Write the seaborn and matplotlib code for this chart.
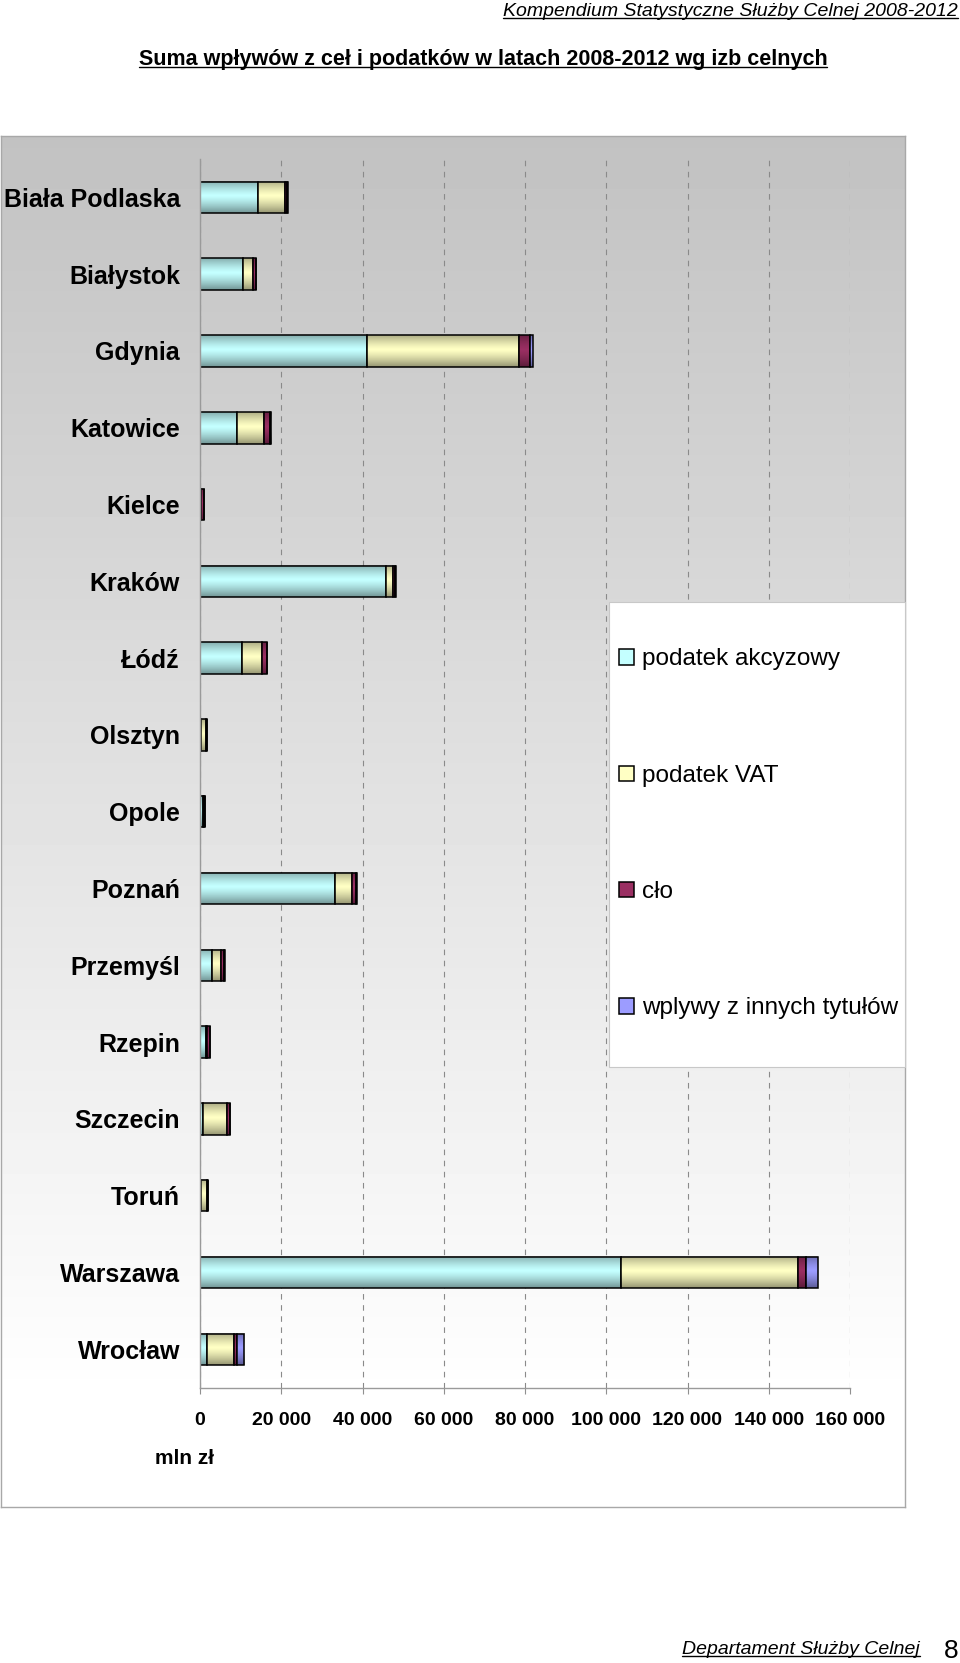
import numpy as np
import pandas as pd
import matplotlib
matplotlib.use("Agg")
import matplotlib.pyplot as plt
import seaborn as sns
from matplotlib.patches import Rectangle
from matplotlib.lines import Line2D
from matplotlib.ticker import FuncFormatter

# ---------------- data (mln zł) ----------------
izby = ["Biała Podlaska", "Białystok", "Gdynia", "Katowice", "Kielce", "Kraków",
        "Łódź", "Olsztyn", "Opole", "Poznań", "Przemyśl", "Rzepin", "Szczecin",
        "Toruń", "Warszawa", "Wrocław"]
akcyzowy = [14200, 10500, 41200, 9100, 100, 45700, 10400, 200, 800, 33300, 3000,
            1400, 700, 200, 103700, 1700]
vat = [6700, 2500, 37200, 6700, 200, 1700, 4900, 1300, 100, 4100, 2200, 400,
       5900, 1500, 43500, 6600]
clo = [600, 700, 2900, 1400, 800, 700, 1100, 100, 300, 1100, 800, 600, 700, 200,
       2000, 700]
inne = [100, 100, 600, 300, 0, 100, 200, 0, 0, 200, 100, 0, 100, 0, 2800, 1900]

series_names = ["podatek akcyzowy", "podatek VAT", "cło", "wplywy z innych tytułów"]
series_values = [akcyzowy, vat, clo, inne]
series_colors = ["#c4ffff", "#ffffc4", "#9a2f62", "#9c9cff"]
xticks = [0, 20000, 40000, 60000, 80000, 100000, 120000, 140000, 160000]

title = "Suma wpływów z ceł i podatków w latach 2008-2012 wg izb celnych"
header = "Kompendium Statystyczne Służby Celnej 2008-2012"
footer = "Departament Służby Celnej"
page_no = "8"
unit = "mln zł"

# ---------------- figure ----------------
sns.set_theme(style="white")
plt.rcParams["font.family"] = ["Liberation Sans", "DejaVu Sans"]
plt.rcParams["text.color"] = "black"

W, H = 960, 1663
fig = plt.figure(figsize=(W / 100, H / 100), dpi=100)
fig.patch.set_facecolor("white")


def fx(px):
    return px / W


def fy(py):
    return 1 - py / H


# chart area background with vertical gradient
bg = fig.add_axes([fx(0.5), fy(1507), fx(905) - fx(0.5), fy(136) - fy(1507)], zorder=0)
grad = np.clip(np.linspace(0.76, 1.02, 256), 0, 1)[:, None]
bg.imshow(grad, cmap="gray", vmin=0, vmax=1, aspect="auto",
          extent=(0, 1, 0, 1), origin="upper", interpolation="bilinear")
bg.set_xticks([])
bg.set_yticks([])
for s in bg.spines.values():
    s.set_color("#a8a8a8")
    s.set_linewidth(1.0)

# main plotting axes
ax = fig.add_axes([fx(200), fy(1387.7), fx(850) - fx(200), fy(159) - fy(1387.7)], zorder=2)
ax.patch.set_alpha(0)

df = pd.DataFrame({"izba": izby})
left = np.zeros(len(izby))
for name, vals, col in zip(series_names, series_values, series_colors):
    df[name] = vals
    sns.barplot(data=df, y="izba", x=name, order=izby, orient="h", color=col,
                saturation=1, width=0.41, errorbar=None, left=left.copy(),
                edgecolor="black", linewidth=1.1, label=name, ax=ax)
    left = left + np.array(vals, dtype=float)

handles, labels = ax.get_legend_handles_labels()
if ax.get_legend() is not None:
    ax.get_legend().remove()

# cylinder-like shading over each bar segment
t = np.linspace(0, 1, 80)
alpha = 0.42 * (np.abs(t - 0.45) / 0.55) ** 1.3
shade = np.zeros((80, 1, 4))
shade[:, 0, 3] = alpha
for p in list(ax.patches):
    w = p.get_width()
    if w <= 0:
        continue
    x0, y0, h = p.get_x(), p.get_y(), p.get_height()
    ax.imshow(shade, extent=(x0, x0 + w, y0 + h, y0), origin="upper",
              aspect="auto", interpolation="bilinear", zorder=p.get_zorder() + 0.01)

ax.set_xlim(0, 160000)
ax.set_ylim(len(izby) - 0.5, -0.5)
ax.set_xlabel("")
ax.set_ylabel("")

ax.set_xticks(xticks)
ax.xaxis.set_major_formatter(FuncFormatter(lambda v, pos: f"{int(v):,}".replace(",", " ")))
ax.xaxis.grid(True, linestyle=(0, (5, 5)), color="#8a8a8a", linewidth=0.8)
ax.yaxis.grid(False)
ax.set_axisbelow(True)
ax.tick_params(axis="x", length=4.5, width=0.8, color="#909090", direction="out",
               pad=12.8, labelsize=14, labelcolor="black", bottom=True)
ax.tick_params(axis="y", length=0, pad=14.4, labelsize=18, labelcolor="black")
for lbl in ax.get_xticklabels() + ax.get_yticklabels():
    lbl.set_fontweight("bold")
for side in ["top", "right"]:
    ax.spines[side].set_visible(False)
for side in ["left", "bottom"]:
    ax.spines[side].set_color("#9a9a9a")
    ax.spines[side].set_linewidth(1.0)

fig.text(fx(155), fy(1459), unit, ha="left", va="center", fontsize=15, fontweight="bold")

# legend box
fig.add_artist(Rectangle((fx(609.3), fy(1066.7)), fx(905.3) - fx(609.3), fy(602.3) - fy(1066.7),
                         transform=fig.transFigure, facecolor="white", edgecolor="#c8c8c8",
                         linewidth=0.8, zorder=3))
leg = fig.legend(handles, labels, loc="upper left", bbox_to_anchor=(fx(619), fy(648.5)),
                 frameon=False, fontsize=17.5, handlelength=0.6, handleheight=0.6,
                 handletextpad=0.33, labelspacing=3.88, borderpad=0, borderaxespad=0)
leg.set_zorder(5)

# texts
t_title = fig.text(fx(483), fy(59), title, ha="center", va="center", fontsize=15.5, fontweight="bold")
t_head = fig.text(fx(958), fy(12), header, ha="right", va="center", fontsize=14, style="italic")
t_foot = fig.text(fx(920), fy(1650), footer, ha="right", va="center", fontsize=14, style="italic")
fig.text(fx(951), fy(1651), page_no, ha="center", va="center", fontsize=19)

fig.canvas.draw()
renderer = fig.canvas.get_renderer()
for tt in (t_title, t_head, t_foot):
    bb = tt.get_window_extent(renderer)
    yline = bb.y0 + 0.12 * bb.height
    fig.add_artist(Line2D([bb.x0 / W, bb.x1 / W], [yline / H, yline / H],
                          transform=fig.transFigure, color="black", linewidth=1.0))

fig.savefig("out.png", dpi=100)
